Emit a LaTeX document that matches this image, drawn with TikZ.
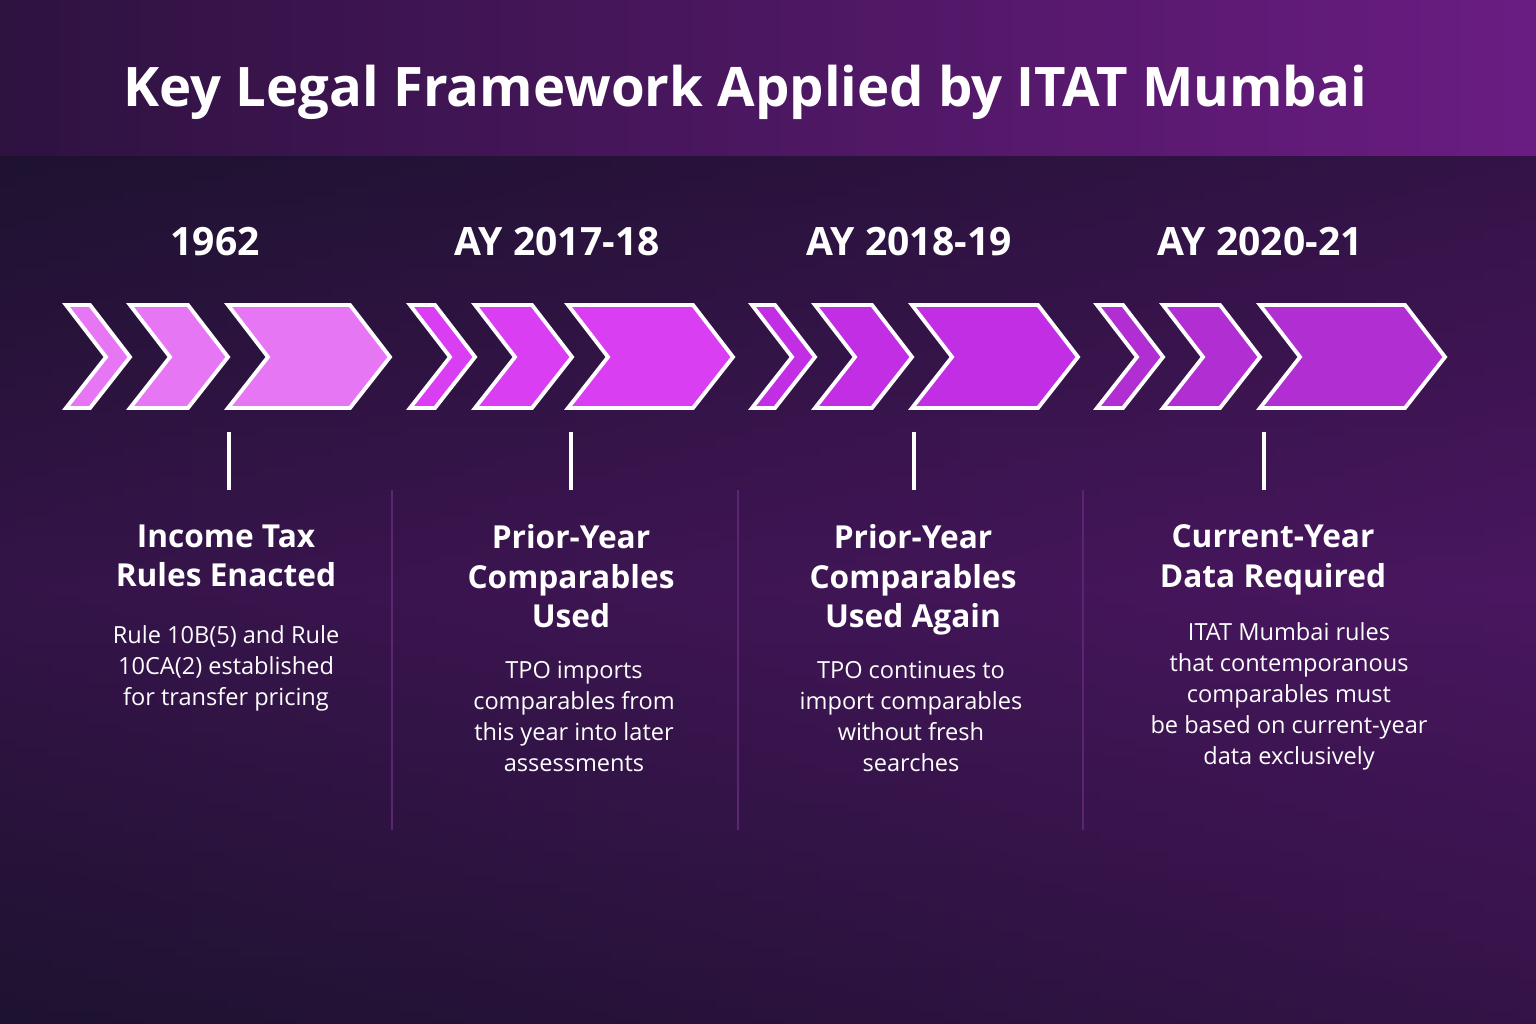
\documentclass[tikz,border=0pt]{standalone}
\usepackage{fontspec}
\setmainfont{Open Sans}
\definecolor{bgdark}{HTML}{1E1230}
\definecolor{bgpurp}{HTML}{4A1660}
\definecolor{bandl}{HTML}{2E1240}
\definecolor{bandr}{HTML}{6A1C82}
\definecolor{chevA}{HTML}{E676F4}
\definecolor{chevB}{HTML}{DA3EF2}
\definecolor{chevC}{HTML}{C22EE4}
\definecolor{chevD}{HTML}{B02ED2}
\definecolor{sepline}{HTML}{5E2474}
\newcommand{\chev}[3]{% x0, x1, colour
  \draw[white, line width=1.1pt, line join=miter, fill=#3]
    (#1,305) -- (#2-40,305) -- (#2,357) -- (#2-40,408) -- (#1,408) -- (#1+40,357) -- cycle;}
\tikzset{
  year/.style={text=white, font=\fontsize{11.1}{13}\selectfont\bfseries},
  head/.style={text=white, align=center, font=\fontsize{9}{11.3}\selectfont\bfseries},
  body/.style={text=white, align=center, font=\fontsize{6.7}{8.8}\selectfont}
}
\begin{document}
\begin{tikzpicture}[x=0.01cm, y=-0.01cm]
\useasboundingbox (0,0) rectangle (1536,1024);
\shade[left color=bgdark, right color=bgpurp] (0,0) rectangle (1536,1024);
\shade[top color=bgdark, bottom color=bgdark, middle color=bgpurp, opacity=0.5] (0,155) rectangle (1536,1024);
\shade[left color=bandl, right color=bandr] (0,0) rectangle (1536,155);
\node[text=white, font=\fontsize{15.5}{18}\selectfont\bfseries] (title) at (745,92) {Key Legal Framework Applied by ITAT Mumbai};
% chevrons
\chev{66}{130}{chevA} \chev{130}{228}{chevA} \chev{228}{390}{chevA}
\chev{410}{475}{chevB} \chev{475}{572}{chevB} \chev{568}{733}{chevB}
\chev{752}{815}{chevC} \chev{815}{912}{chevC} \chev{912}{1078}{chevC}
\chev{1097}{1163}{chevD} \chev{1163}{1260}{chevD} \chev{1260}{1445}{chevD}
% separators
\foreach \x in {392,738,1083}
  \draw[sepline, line width=0.8pt] (\x,490) -- (\x,830);
% years
\node[year] (y1) at (215,242) {1962};
\node[year] (y2) at (557,242) {AY 2017-18};
\node[year] (y3) at (909,242) {AY 2018-19};
\node[year] (y4) at (1260,242) {AY 2020-21};
% ticks
\foreach \x in {229,571,914,1264}
  \draw[white, line width=1.2pt] (\x,432) -- (\x,490);
% headings
\node[head, anchor=north] (h1) at (226,512) {Income Tax\\Rules Enacted};
\node[head, anchor=north] (h2) at (571,512) {Prior-Year\\Comparables\\Used};
\node[head, anchor=north] (h3) at (913,512) {Prior-Year\\Comparables\\Used Again};
\node[head, anchor=north] (h4) at (1273,512) {Current-Year\\Data Required};
% descriptions
\node[body, anchor=north] (d1) at (226,613) {Rule 10B(5) and Rule\\10CA(2) established\\for transfer pricing};
\node[body, anchor=north] (d2) at (574,649) {TPO imports\\comparables from\\this year into later\\assessments};
\node[body, anchor=north] (d3) at (911,649) {TPO continues to\\import comparables\\without fresh\\searches};
\node[body, anchor=north] (d4) at (1289,610) {ITAT Mumbai rules\\that contemporanous\\comparables must\\be based on current-year\\data exclusively};
\end{tikzpicture}
\end{document}
